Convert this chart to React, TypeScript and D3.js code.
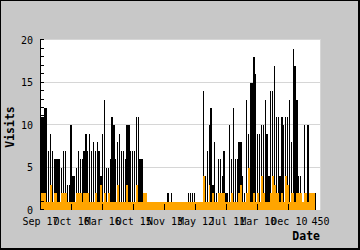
import React from 'react';
import * as d3 from 'd3';

const BIN_DAYS = 3;
const TOTAL_DAYS = 450;

const blackVisits = [
  11, 11, 12, 12, 7, 9, 7, 6, 6, 6,
  6, 5, 7, 7, 3, 3, 10, 4, 4, 5,
  7, 6, 6, 7, 9, 7, 9, 7, 8, 7,
  8, 7, 4, 9, 13, 5, 5, 6, 11, 10,
  6, 8, 9, 7, 7, 6, 10, 10, 7, 7,
  7, 11, 11, 6, 6, 2, 2, 0, 0, 0,
  0, 0, 0, 0, 0, 0, 0, 0, 2, 0,
  2, 0, 0, 0, 0, 0, 0, 0, 0, 2,
  2, 2, 2, 0, 0, 0, 1, 14, 4, 7,
  10, 12, 3, 8, 2, 6, 6, 4, 7, 2,
  2, 10, 6, 12, 6, 6, 8, 8, 4, 2,
  13, 9, 15, 15, 18, 16, 9, 9, 10, 10,
  13, 9, 4, 14, 14, 17, 11, 11, 4, 11,
  10, 11, 11, 13, 8, 19, 17, 13, 4, 4,
  0, 10, 0, 10, 0, 0, 0, 2, 0, 0,
];

const orangeVisits = [
  2, 2, 2, 1, 1, 3, 1, 2, 2, 1,
  1, 2, 2, 2, 1, 1, 1, 1, 1, 2,
  2, 2, 1, 2, 2, 2, 1, 1, 1, 2,
  1, 1, 3, 1, 2, 1, 2, 1, 1, 1,
  1, 3, 1, 1, 1, 1, 3, 1, 1, 1,
  1, 3, 1, 1, 1, 2, 2, 1, 1, 1,
  1, 1, 1, 1, 1, 1, 1, 1, 1, 1,
  1, 1, 1, 1, 1, 1, 1, 1, 1, 1,
  1, 1, 1, 1, 1, 1, 1, 4, 1, 1,
  3, 1, 2, 1, 1, 2, 2, 2, 2, 1,
  1, 1, 2, 1, 1, 1, 2, 3, 1, 1,
  2, 5, 1, 1, 2, 1, 2, 1, 4, 2,
  1, 1, 1, 2, 4, 3, 2, 2, 1, 2,
  1, 4, 3, 1, 2, 2, 1, 2, 2, 2,
  1, 2, 2, 1, 2, 2, 2, 0, 0, 0,
];

const xTickDays = [0, 50, 100, 150, 200, 250, 300, 350, 400, 450];
const xTickLabels = ['Sep 17', 'Oct 16', 'Mar 16', 'Oct 15', 'Nov 13', 'May 12', 'Jul 11', 'Mar 10', 'Dec 10', '450'];
const yMajorTicks = [0, 5, 10, 15, 20];

const FONT = '"DejaVu Sans Mono", monospace';

export default function App() {
  const W = 360;
  const H = 250;
  const left = 40;
  const right = 321;
  const top = 40;
  const bottom = 210;

  const x = d3.scaleLinear().domain([0, TOTAL_DAYS]).range([left + 0.5, right - 0.5]);
  const y = d3.scaleLinear().domain([0, 20]).range([bottom, top]);
  const minorTicks = d3.range(0, 21, 1);
  const crisp = (v: number) => Math.round(v) + 0.5;

  const bars = (vals: number[], color: string, gap: number) =>
    vals.map((v, k) => {
      if (v <= 0) return null;
      const x0 = x(k * BIN_DAYS);
      const x1 = x((k + 1) * BIN_DAYS);
      return (
        <rect key={k} x={x0} y={y(v)} width={Math.max(0, x1 - x0 - gap)} height={y(0) - y(v)} fill={color} shapeRendering="crispEdges" />
      );
    });

  return (
    <svg width={W} height={H} style={{ position: 'absolute', left: 0, top: 0 }}>
      <rect x={0} y={0} width={W} height={H} fill="#000" />
      <rect x={1} y={1} width={W - 3} height={H - 3} fill="#c8c8c8" />
      <rect x={left} y={top} width={right - left} height={bottom - top} fill="#fff" />
      {yMajorTicks.filter((t) => t > 0).map((t) => (
        <line key={t} x1={left} x2={right} y1={crisp(y(t)) - 1} y2={crisp(y(t)) - 1} stroke="#d6d6d6" strokeWidth={1} />
      ))}
      <line x1={right - 0.5} x2={right - 0.5} y1={top} y2={bottom} stroke="#d6d6d6" />
      <g>{bars(blackVisits, '#000', 0.6)}</g>
      <g>{bars(orangeVisits, '#ffa500', 0)}</g>
      {xTickDays.slice(1, 9).map((d) => (
        <line key={d} x1={crisp(x(d)) - 1} x2={crisp(x(d)) - 1} y1={bottom - 6} y2={bottom} stroke="#000" />
      ))}
      <line x1={left + 0.5} x2={left + 0.5} y1={top} y2={bottom} stroke="#000" />
      {minorTicks.map((t) => (
        <line key={t} x1={left} x2={left + 4} y1={crisp(y(t)) - 1} y2={crisp(y(t)) - 1} stroke="#000" />
      ))}
      {yMajorTicks.map((t) => (
        <text key={t} x={33} y={y(t)} dy="0.36em" textAnchor="end" fontFamily={FONT} fontSize={10} fill="#000">
          {t}
        </text>
      ))}
      {xTickDays.map((d, i) => (
        <text key={d} x={x(d)} y={224.5} textAnchor="middle" fontFamily={FONT} fontSize={10} fill="#000">
          {xTickLabels[i]}
        </text>
      ))}
      <text x={320} y={240} textAnchor="end" fontFamily={FONT} fontSize={11.5} fontWeight="bold" fill="#000">
        Date
      </text>
      <text
        transform={`translate(13.5, ${(top + bottom) / 2 + 2}) rotate(-90)`}
        textAnchor="middle"
        fontFamily={FONT}
        fontSize={11.5}
        fontWeight="bold"
        fill="#000"
      >
        Visits
      </text>
    </svg>
  );
}
